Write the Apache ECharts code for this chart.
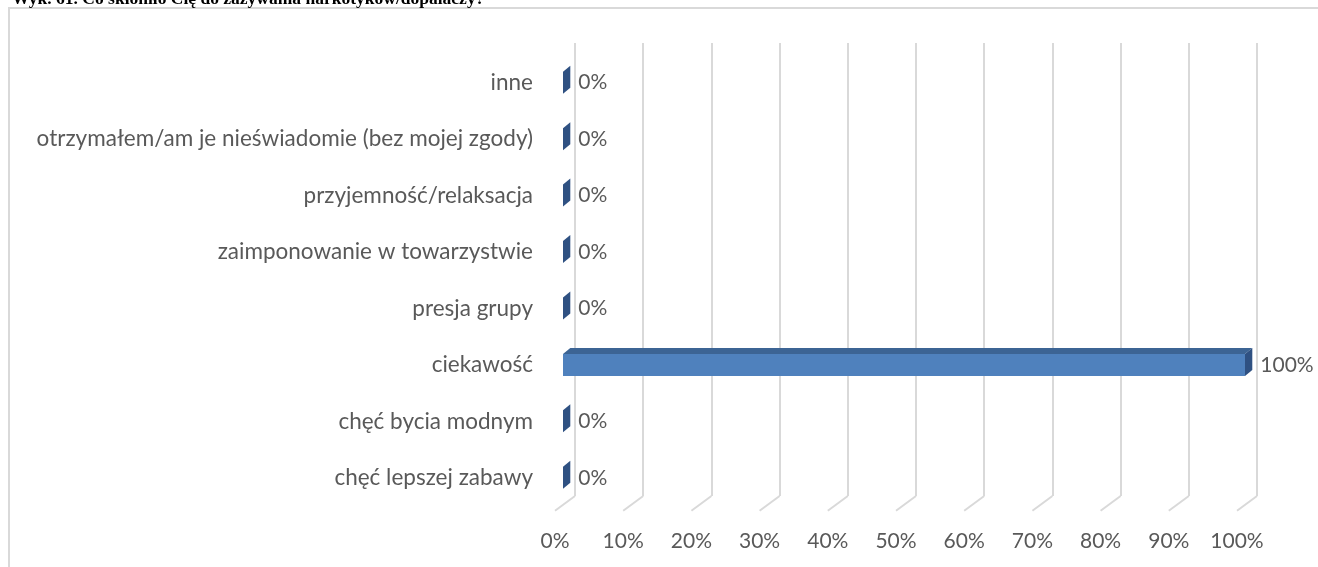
<!DOCTYPE html>
<html>
<head>
<meta charset="utf-8">
<script src="https://cdn.jsdelivr.net/npm/echarts@6/dist/echarts.min.js"></script>
<style>
  html, body { margin: 0; padding: 0; background: #ffffff; }
  #chart { width: 1318px; height: 567px; }
</style>
</head>
<body>
<div id="chart"></div>
<script>
// Reasons, listed from the bottom row upwards
const categories = [
  'chęć lepszej zabawy',
  'chęć bycia modnym',
  'ciekawość',
  'presja grupy',
  'zaimponowanie w towarzystwie',
  'przyjemność/relaksacja',
  'otrzymałem/am je nieświadomie (bez mojej zgody)',
  'inne'
];
// Share of answers, in percent
const values = [0, 0, 100, 0, 0, 0, 0, 0];
// Percent axis ticks
const ticks = [0, 10, 20, 30, 40, 50, 60, 70, 80, 90, 100];

const titleText = 'Wyk. 61. Co skłoniło Cię do zażywania narkotyków/dopalaczy?';

const FONT = 'Lato';
const GRAY = '#595959';
const GRID_COLOR = '#d9d9d9';
// perspective offsets
const FLOOR_DX = -20, FLOOR_DY = 14.7;   // back wall -> front edge of floor
const BAR_DX = 7.3, BAR_DY = -6;        // bar front face -> bar back face

const chart = echarts.init(document.getElementById('chart'), null, { renderer: 'canvas' });

const option = {
  backgroundColor: '#ffffff',
  animation: false,
  graphic: [
    {
      type: 'rect',
      shape: { x: 9, y: 8, width: 1400, height: 620 },
      style: { fill: 'none', stroke: GRID_COLOR, lineWidth: 2 },
      z: -10
    },
    {
      type: 'text',
      x: 12, y: -0.5,
      style: {
        text: titleText,
        font: 'bold 17.5px "Liberation Serif", "Times New Roman", serif',
        fill: '#000000',
        verticalAlign: 'middle',
        align: 'left'
      }
    }
  ],
  grid: [
    // back wall
    { left: 575, right: 61, top: 43, bottom: 71 },
    // plane of the bars' front faces
    { left: 563, right: 73, top: 54.5, bottom: 61 },
    // front edge of the floor (axis labels)
    { left: 555, right: 81, top: 58, bottom: 56 }
  ],
  xAxis: [
    {
      gridIndex: 0, type: 'value', min: 0, max: 100, interval: 10,
      axisLine: { show: false }, axisTick: { show: false }, axisLabel: { show: false },
      splitLine: { show: true, lineStyle: { color: GRID_COLOR, width: 2 } }
    },
    {
      gridIndex: 1, type: 'value', min: 0, max: 100, interval: 10, show: false
    },
    {
      gridIndex: 2, type: 'value', min: 0, max: 100, interval: 10,
      axisLine: { show: false }, axisTick: { show: false },
      splitLine: { show: false },
      axisLabel: {
        show: true, margin: 20, color: GRAY, fontFamily: FONT, fontSize: 21,
        formatter: v => v + '%'
      }
    }
  ],
  yAxis: [
    { gridIndex: 0, type: 'value', min: 0, max: 1, show: false },
    {
      gridIndex: 1, type: 'category', data: categories,
      axisLine: { show: false }, axisTick: { show: false },
      splitLine: { show: false },
      axisLabel: { margin: 30, color: GRAY, fontFamily: FONT, fontSize: 22.5 }
    },
    { gridIndex: 2, type: 'value', min: 0, max: 1, show: false }
  ],
  series: [
    {
      // floor lines running from the back wall to the front
      type: 'custom',
      xAxisIndex: 0, yAxisIndex: 0,
      data: ticks.map(t => [t, 0]),
      silent: true,
      z: 1,
      renderItem: function (params, api) {
        const p = api.coord([api.value(0), 0]);
        return {
          type: 'line',
          shape: { x1: p[0], y1: p[1], x2: p[0] + FLOOR_DX, y2: p[1] + FLOOR_DY },
          style: { stroke: GRID_COLOR, lineWidth: 2 }
        };
      }
    },
    {
      // 3D bars with value labels
      type: 'custom',
      xAxisIndex: 1, yAxisIndex: 1,
      data: values.map((v, i) => [v, i]),
      encode: { x: 0, y: 1 },
      z: 5,
      renderItem: function (params, api) {
        const v = api.value(0);
        const i = api.value(1);
        const start = api.coord([0, i]);
        const end = api.coord([v, i]);
        const h = api.size([0, 1])[1] * 0.39;
        const x0 = start[0], x1 = end[0];
        const top = start[1] - h / 2, bot = start[1] + h / 2;
        const children = [];
        if (x1 > x0) {
          children.push({
            type: 'rect',
            shape: { x: x0, y: top, width: x1 - x0, height: h },
            style: { fill: '#4f81bd' }
          });
          children.push({
            type: 'polygon',
            shape: { points: [[x0, top], [x1, top], [x1 + BAR_DX, top + BAR_DY], [x0 + BAR_DX, top + BAR_DY]] },
            style: { fill: '#3c6494' }
          });
        }
        children.push({
          type: 'polygon',
          shape: { points: [[x1, top], [x1 + BAR_DX, top + BAR_DY], [x1 + BAR_DX, bot + BAR_DY], [x1, bot]] },
          style: { fill: '#2f5182' }
        });
        children.push({
          type: 'text',
          x: x1 + BAR_DX + 8,
          y: start[1],
          style: {
            text: v + '%',
            font: '21px ' + FONT,
            fill: GRAY,
            align: 'left',
            verticalAlign: 'middle'
          }
        });
        return { type: 'group', children: children };
      }
    }
  ]
};

chart.setOption(option);
</script>
</body>
</html>
